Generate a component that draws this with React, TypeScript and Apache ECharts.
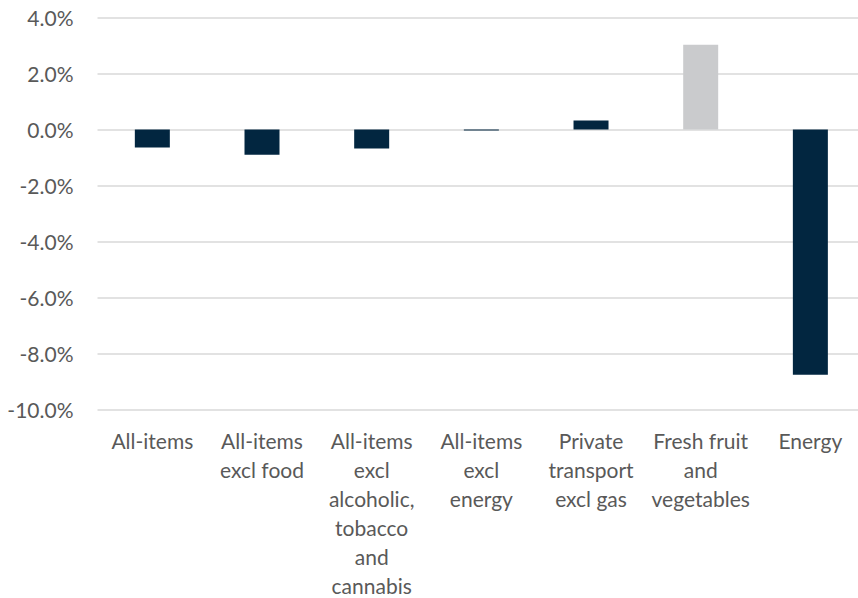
import React, { useEffect, useRef } from "react";
import * as echarts from "echarts";

const categories = [
  "All-items",
  "All-items\nexcl food",
  "All-items\nexcl\nalcoholic,\ntobacco\nand\ncannabis",
  "All-items\nexcl\nenergy",
  "Private\ntransport\nexcl gas",
  "Fresh fruit\nand\nvegetables",
  "Energy",
];
const values = [-0.64, -0.9, -0.68, -0.04, 0.32, 3.03, -8.76];
const yTicks = { min: -10, max: 4, interval: 2 };

const NAVY = "#022640";
const GREY = "#cacbcd";

export default function App() {
  const ref = useRef<HTMLDivElement>(null);
  useEffect(() => {
    const chart = echarts.init(ref.current!, null, { renderer: "svg" });
    const font = "Lato, 'Open Sans', sans-serif";
    chart.setOption({
      animation: false,
      grid: {
        left: 97.5,
        width: 767.7,
        top: 17.5,
        bottom: 188.5,
        containLabel: false,
        outerBoundsMode: "none",
      },
      xAxis: {
        type: "category",
        data: categories,
        axisLine: { show: false },
        axisTick: { show: false },
        axisLabel: {
          interval: 0,
          color: "#595959",
          fontFamily: font,
          fontSize: 21,
          lineHeight: 29,
          margin: 16,
          align: "center",
        },
      },
      yAxis: {
        type: "value",
        min: yTicks.min,
        max: yTicks.max,
        interval: yTicks.interval,
        axisLine: { show: false },
        axisTick: { show: false },
        splitLine: { lineStyle: { color: "#d9d9d9", width: 1.5 } },
        axisLabel: {
          color: "#595959",
          fontFamily: font,
          fontSize: 21,
          margin: 24,
          formatter: (v: number) => v.toFixed(1) + "%",
        },
      },
      series: [
        {
          type: "bar",
          barWidth: 35,
          data: values.map((v, i) => ({
            value: v,
            itemStyle: { color: categories[i].startsWith("Fresh") ? GREY : NAVY },
          })),
        },
      ],
    });
    return () => chart.dispose();
  }, []);
  return (
    <div
      ref={ref}
      style={{ position: "absolute", left: 0, top: 0, width: 858, height: 598, background: "#fff", overflow: "hidden" }}
    />
  );
}
